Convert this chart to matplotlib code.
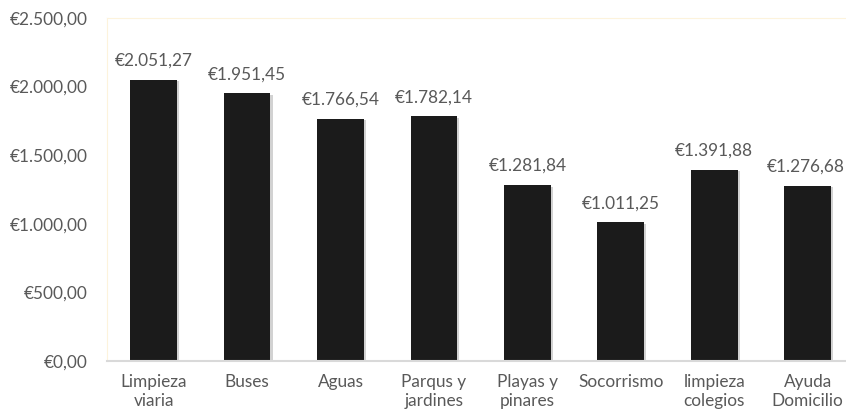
import matplotlib.pyplot as plt
import matplotlib.patheffects as pe
from matplotlib.ticker import FuncFormatter
from matplotlib.transforms import offset_copy

categories = ['Limpieza\nviaria', 'Buses', 'Aguas', 'Parqus y\njardines',
              'Playas y\npinares', 'Socorrismo', 'limpieza\ncolegios', 'Ayuda\nDomicilio']
values = [2051.27, 1951.45, 1766.54, 1782.14, 1281.84, 1011.25, 1391.88, 1276.68]
y_ticks = [0, 500, 1000, 1500, 2000, 2500]


def euro(v):
    # spanish style: dot for thousands, comma for decimals
    s = '{:,.2f}'.format(v)
    s = s.replace(',', 'X').replace('.', ',').replace('X', '.')
    return '€' + s


plt.rcParams['font.family'] = ['Lato', 'DejaVu Sans']
text_color = '#595959'
fs = 12.4

fig = plt.figure(figsize=(8.46, 4.15), dpi=100)
ax = fig.add_axes([107 / 846, 54 / 415, 1 - 107 / 846, 343 / 415])

x = list(range(len(categories)))
bars = ax.bar(x, values, width=0.5, color='#1b1b1b', zorder=3)
for b in bars:
    b.set_path_effects([pe.SimplePatchShadow(offset=(1.5, -1.0), shadow_rgbFace='#808080', alpha=0.35),
                        pe.Normal()])

labels = []
for xi, v in zip(x, values):
    t = ax.annotate(euro(v), (xi, v), xytext=(0, 8), textcoords='offset points',
                    ha='center', va='bottom', fontsize=fs, color=text_color,
                    annotation_clip=False)
    labels.append(t)

ax.set_xlim(-0.5, 7.41)
ax.set_ylim(0, 2500)
ax.set_yticks(y_ticks)
ax.yaxis.set_major_formatter(FuncFormatter(lambda v, p: euro(v)))
ax.set_xticks(x)
ax.set_xticklabels(categories, linespacing=1.3)
ax.tick_params(axis='both', length=0, colors=text_color, labelsize=fs)
ax.tick_params(axis='y', pad=14)
ax.tick_params(axis='x', pad=9)

ax.spines['right'].set_visible(False)
ax.spines['left'].set_color('#fdf3dc')
ax.spines['top'].set_color('#fdf3dc')
ax.spines['left'].set_linewidth(0.8)
ax.spines['top'].set_linewidth(0.8)
ax.spines['bottom'].set_color('#d9d9d9')
ax.spines['bottom'].set_linewidth(1.5)
ax.spines['bottom'].set_zorder(4)

# keep data labels inside the figure
fig.canvas.draw()
r = fig.canvas.get_renderer()
for t in labels:
    bb = t.get_window_extent(r)
    over = bb.x1 - (fig.bbox.width - 1)
    if over > 0:
        t.set_position((-over * 72 / fig.dpi, 8))

fig.savefig('out.png', dpi=100)
